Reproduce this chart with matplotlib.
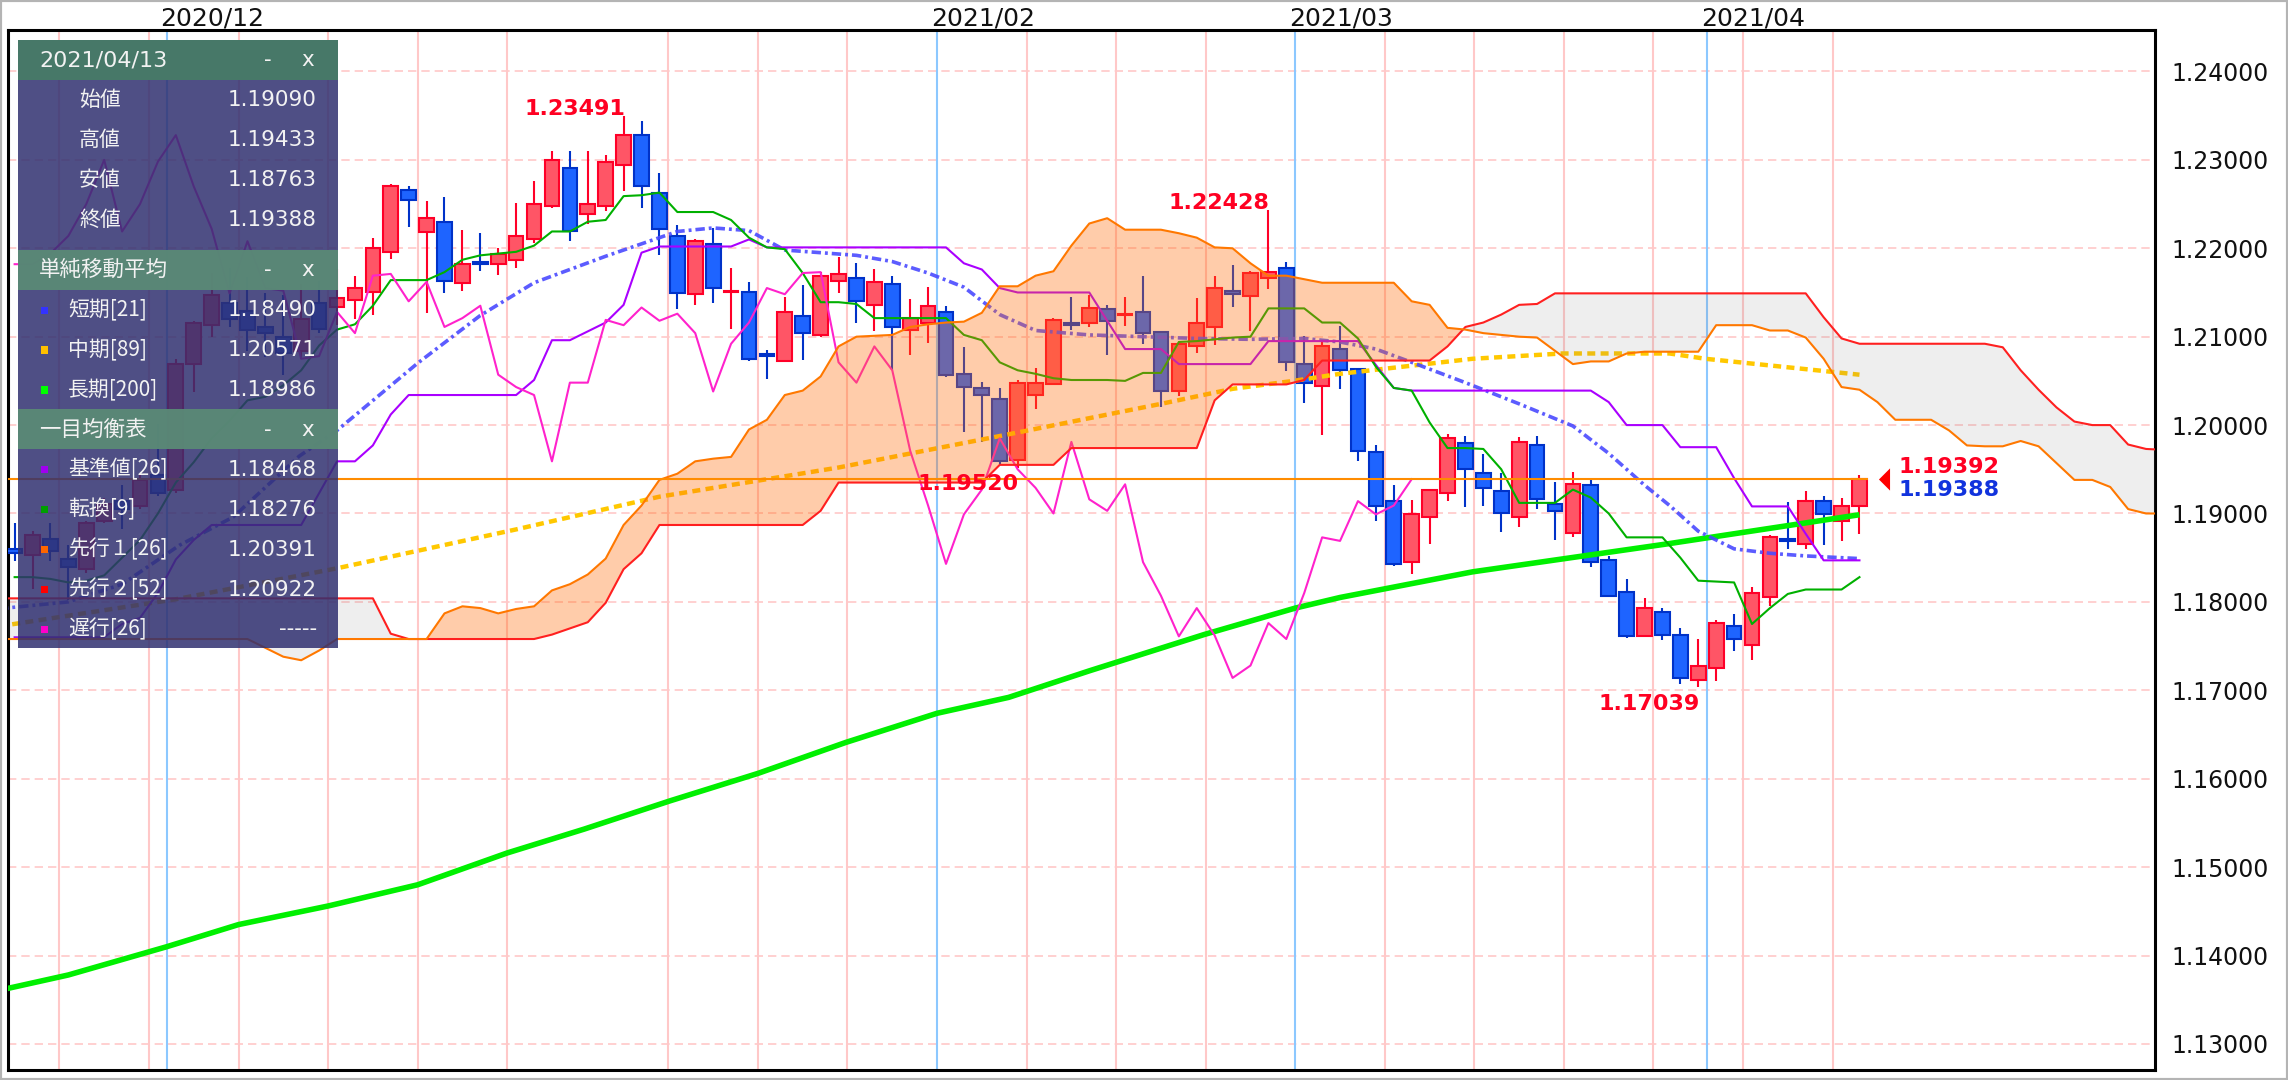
"""EUR/USD daily chart with Ichimoku cloud, SMAs and an info panel."""

import matplotlib

matplotlib.use("Agg")
import matplotlib.pyplot as plt
import numpy as np
from matplotlib.patches import Rectangle

# ---------------------------------------------------------------------------
# data (candle index 0 = 2020/11/18 ... index 103 = 2021/04/13)
# ---------------------------------------------------------------------------
candle_open = [
    1.1860, 1.1853, 1.1871, 1.1849, 1.1837, 1.1891, 1.1914, 1.1909, 1.1943, 1.1927,
    1.2069, 1.2113, 1.2138, 1.2129, 1.2111, 1.2100, 1.2084, 1.2138, 1.2134, 1.2141,
    1.2150, 1.2196, 1.2266, 1.2218, 1.2230, 1.2161, 1.2184, 1.2182, 1.2187, 1.2211,
    1.2248, 1.2291, 1.2239, 1.2248, 1.2294, 1.2328, 1.2262, 1.2214, 1.2148, 1.2205,
    1.2150, 1.2151, 1.2080, 1.2073, 1.2123, 1.2102, 1.2163, 1.2166, 1.2136, 1.2160,
    1.2107, 1.2115, 1.2128, 1.2058, 1.2042, 1.2030, 1.1961, 1.2034, 1.2046, 1.2116,
    1.2116, 1.2131, 1.2124, 1.2128, 1.2105, 1.2038, 1.2089, 1.2111, 1.2152, 1.2146,
    1.2166, 1.2178, 1.2069, 1.2044, 1.2086, 1.2064, 1.1969, 1.1914, 1.1845, 1.1896,
    1.1923, 1.1980, 1.1946, 1.1926, 1.1896, 1.1977, 1.1911, 1.1878, 1.1932, 1.1847,
    1.1811, 1.1761, 1.1789, 1.1762, 1.1712, 1.1725, 1.1773, 1.1751, 1.1805, 1.1871,
    1.1866, 1.1914, 1.1891, 1.19090,
]
candle_high = [
    1.1889, 1.1880, 1.1889, 1.1864, 1.1891, 1.1918, 1.1932, 1.1945, 1.2001, 1.2075,
    1.2118, 1.2172, 1.2178, 1.2167, 1.2149, 1.2147, 1.2160, 1.2163, 1.2176, 1.2169,
    1.2212, 1.2273, 1.2271, 1.2253, 1.2258, 1.2221, 1.2217, 1.2200, 1.2251, 1.2276,
    1.2310, 1.2310, 1.2310, 1.2305, 1.23491, 1.2344, 1.2285, 1.2226, 1.2210, 1.2223,
    1.2178, 1.2162, 1.2085, 1.2145, 1.2158, 1.2173, 1.2190, 1.2183, 1.2176, 1.2169,
    1.2143, 1.2156, 1.2135, 1.2088, 1.2049, 1.2042, 1.2051, 1.2065, 1.2121, 1.2145,
    1.2147, 1.2136, 1.2145, 1.2169, 1.2105, 1.2092, 1.2144, 1.2169, 1.2181, 1.2174,
    1.22428, 1.2185, 1.2101, 1.2096, 1.2112, 1.2064, 1.1977, 1.1932, 1.1915, 1.1927,
    1.1990, 1.1988, 1.1967, 1.1946, 1.1986, 1.1988, 1.1936, 1.1947, 1.1939, 1.1852,
    1.1826, 1.1804, 1.1793, 1.1771, 1.1758, 1.1779, 1.1786, 1.1817, 1.1876, 1.1913,
    1.1926, 1.1920, 1.1917, 1.19433,
]
candle_low = [
    1.1846, 1.1815, 1.1846, 1.1802, 1.1833, 1.1889, 1.1882, 1.1905, 1.1920, 1.1923,
    1.2037, 1.2100, 1.2111, 1.2084, 1.2077, 1.2057, 1.2075, 1.2104, 1.2113, 1.2120,
    1.2125, 1.2188, 1.2224, 1.2127, 1.2149, 1.2152, 1.2174, 1.2170, 1.2178, 1.2206,
    1.2246, 1.2208, 1.2227, 1.2242, 1.2265, 1.2245, 1.2192, 1.2131, 1.2136, 1.2138,
    1.2109, 1.2072, 1.2052, 1.2072, 1.2074, 1.2100, 1.2149, 1.2116, 1.2106, 1.2062,
    1.2079, 1.2093, 1.2054, 1.1992, 1.1981, 1.1956, 1.19520, 1.2018, 1.2045, 1.2107,
    1.2111, 1.2079, 1.2112, 1.2092, 1.2021, 1.2033, 1.2081, 1.2091, 1.2134, 1.2106,
    1.2154, 1.2061, 1.2025, 1.1989, 1.2041, 1.1959, 1.1891, 1.1841, 1.1832, 1.1865,
    1.1914, 1.1907, 1.1909, 1.1879, 1.1885, 1.1905, 1.1870, 1.1873, 1.1839, 1.1807,
    1.1759, 1.1761, 1.1757, 1.1707, 1.17039, 1.1710, 1.1745, 1.1734, 1.1795, 1.1860,
    1.1860, 1.1864, 1.1869, 1.18763,
]
candle_close = [
    1.1855, 1.1876, 1.1858, 1.1840, 1.1889, 1.1911, 1.1905, 1.1938, 1.1923, 1.2069,
    1.2116, 1.2147, 1.2120, 1.2107, 1.2104, 1.2082, 1.2120, 1.2109, 1.2144, 1.2155,
    1.2200, 1.2270, 1.2255, 1.2234, 1.2163, 1.2182, 1.2182, 1.2194, 1.2214, 1.2250,
    1.2300, 1.2219, 1.2250, 1.2298, 1.2328, 1.2270, 1.2222, 1.2149, 1.2208, 1.2155,
    1.2152, 1.2075, 1.2078, 1.2128, 1.2104, 1.2169, 1.2171, 1.2140, 1.2162, 1.2111,
    1.2121, 1.2135, 1.2057, 1.2043, 1.2034, 1.1959, 1.2048, 1.2048, 1.2119, 1.2113,
    1.2133, 1.2118, 1.2126, 1.2104, 1.2038, 1.2092, 1.2116, 1.2155, 1.2148, 1.2172,
    1.2173, 1.2071, 1.2048, 1.2089, 1.2062, 1.1971, 1.1909, 1.1843, 1.1899, 1.1927,
    1.1985, 1.1950, 1.1929, 1.1900, 1.1981, 1.1916, 1.1903, 1.1933, 1.1845, 1.1807,
    1.1761, 1.1793, 1.1762, 1.1714, 1.1728, 1.1776, 1.1758, 1.1810, 1.1873, 1.1869,
    1.1914, 1.1899, 1.1909, 1.19388,
]

tenkan = [
    1.1828, 1.1828, 1.1826, 1.1822, 1.1824, 1.1830, 1.1850, 1.1870, 1.1900, 1.1935,
    1.1958, 1.1985, 1.2005, 1.2028, 1.2032, 1.2045, 1.2062, 1.2090, 1.2108, 1.2114,
    1.2135, 1.2164, 1.2164, 1.2164, 1.2173, 1.2187, 1.2192, 1.2194, 1.2196, 1.2203,
    1.2219, 1.2219, 1.2230, 1.2232, 1.2259, 1.2260, 1.2263, 1.2241, 1.2241, 1.2241,
    1.2232, 1.2212, 1.2201, 1.2199, 1.2172, 1.2139, 1.2139, 1.2137, 1.2121, 1.2121,
    1.2121, 1.2121, 1.2121, 1.2102, 1.2096, 1.2071, 1.2062, 1.2058, 1.2053, 1.2051,
    1.2051, 1.2051, 1.2050, 1.2059, 1.2059, 1.2094, 1.2095, 1.2097, 1.2099, 1.2100,
    1.2132, 1.2132, 1.2132, 1.2116, 1.2116, 1.2098, 1.2066, 1.2042, 1.2039, 1.2003,
    1.1974, 1.1974, 1.1973, 1.1950, 1.1912, 1.1912, 1.1912, 1.1927, 1.1918, 1.1900,
    1.1873, 1.1873, 1.1873, 1.1850, 1.1824, 1.1823, 1.1822, 1.1775, 1.1793, 1.1809,
    1.1814, 1.1814, 1.1814, 1.1828,
]
kijun = [
    1.1760, 1.1760, 1.1760, 1.1760, 1.1760, 1.1760, 1.1775, 1.1782, 1.1810, 1.1848,
    1.1870, 1.1887, 1.1887, 1.1887, 1.1887, 1.1887, 1.1887, 1.1923, 1.1959, 1.1959,
    1.1977, 1.2012, 1.2034, 1.2034, 1.2034, 1.2034, 1.2034, 1.2034, 1.2034, 1.2051,
    1.2096, 1.2096, 1.2106, 1.2116, 1.2136, 1.2195, 1.2202, 1.2202, 1.2202, 1.2202,
    1.2202, 1.2210, 1.2201, 1.2201, 1.2201, 1.2201, 1.2201, 1.2201, 1.2201, 1.2201,
    1.2201, 1.2201, 1.2201, 1.2183, 1.2176, 1.2155, 1.2150, 1.2150, 1.2150, 1.2150,
    1.2150, 1.2118, 1.2086, 1.2086, 1.2086, 1.2069, 1.2069, 1.2069, 1.2069, 1.2069,
    1.2095, 1.2095, 1.2095, 1.2095, 1.2095, 1.2095, 1.2068, 1.2042, 1.2039, 1.2039,
    1.2039, 1.2039, 1.2039, 1.2039, 1.2039, 1.2039, 1.2039, 1.2039, 1.2039, 1.2026,
    1.2000, 1.2000, 1.2000, 1.1975, 1.1975, 1.1975, 1.1940, 1.1908, 1.1908, 1.1908,
    1.1877, 1.1847, 1.1847, 1.1847,
]

# leading spans, index -1 ... 120 (drawn 26 days ahead)
senkou_a = (
    [1.1758] * 15 + [1.1748, 1.1738, 1.1734, 1.1745] + [1.1758] * 6
    + [1.1787, 1.1795, 1.1793, 1.1787, 1.1792, 1.1795, 1.1813, 1.1820, 1.1831,
       1.1849, 1.1887, 1.1909, 1.1938, 1.1945, 1.1959, 1.1962, 1.1964, 1.1995,
       1.2006, 1.2034, 1.2039, 1.2055, 1.2089, 1.2100, 1.2101, 1.2102, 1.2111,
       1.2114, 1.2116, 1.2117, 1.2127, 1.2157, 1.2157, 1.2169, 1.2174, 1.2203,
       1.2228, 1.2234, 1.2221, 1.2221, 1.2221, 1.2217, 1.2212, 1.2201, 1.2200,
       1.2183, 1.2169, 1.2169, 1.2165]
    + [1.2161] * 5
    + [1.2140, 1.2136, 1.2110, 1.2108, 1.2104, 1.2102, 1.2100, 1.2099, 1.2084,
       1.2069, 1.2072, 1.2072, 1.2081, 1.2083, 1.2083, 1.2083, 1.2083, 1.2113,
       1.2113, 1.2113, 1.2107, 1.2107, 1.2099, 1.2075, 1.2043, 1.2040, 1.2026,
       1.2006, 1.2006, 1.2006, 1.1994, 1.1977, 1.1976, 1.1976, 1.1982, 1.1976,
       1.1957, 1.1938, 1.1938, 1.1930, 1.1905, 1.1900, 1.1900]
)
senkou_b = (
    [1.1804] * 22 + [1.1764] + [1.1758] * 8
    + [1.1763, 1.1770, 1.1777, 1.1799, 1.1837, 1.1855]
    + [1.1887] * 9 + [1.1903] + [1.1935] * 9 + [1.1955] * 4 + [1.1974] * 8
    + [1.2028] + [1.2046] * 4 + [1.2051] + [1.2073] * 7
    + [1.2089, 1.2111, 1.2116, 1.2125, 1.2136, 1.2137]
    + [1.2149] * 15 + [1.2122, 1.2098] + [1.2092] * 8
    + [1.2088, 1.2062, 1.2040, 1.2020, 1.2004, 1.2000, 1.2000, 1.1978, 1.1973,
       1.1972]
)

# moving averages, read as (candle index, value) vertices
sma21_idx = [-1, 3, 6, 9.2, 12.2, 15.9, 18, 22.5, 26, 29, 33, 37, 39, 41, 43, 45,
             47, 49, 51, 53, 55, 57, 60, 63, 66, 69, 72, 74, 76, 78, 81, 84, 87,
             89, 91, 92.4, 94, 96, 98, 100, 103]
sma21_val = [1.1792, 1.1800, 1.1820, 1.1864, 1.1896, 1.1965, 1.1994, 1.2070,
             1.2124, 1.2161, 1.2191, 1.2219, 1.2223, 1.2220, 1.2198, 1.2195,
             1.2192, 1.2185, 1.2172, 1.2156, 1.2125, 1.2107, 1.2102, 1.2100,
             1.2098, 1.2097, 1.2098, 1.2094, 1.2086, 1.2071, 1.2048, 1.2024,
             1.1999, 1.1968, 1.1932, 1.1909, 1.1880, 1.1860, 1.1855, 1.1852,
             1.1849]
sma89_idx = [-1, 9, 18, 28, 36, 46, 55.6, 64, 68, 71.4, 74, 81.4, 86.4, 92.4,
             94.4, 98.7, 103]
sma89_val = [1.1772, 1.1803, 1.1838, 1.1882, 1.1919, 1.1952, 1.1990, 1.2024,
             1.2041, 1.2050, 1.2058, 1.2075, 1.2081, 1.2081, 1.2075, 1.2066,
             1.2057]
sma200_idx = [-1, 3, 8.5, 12.5, 17.5, 22.5, 27.5, 31.8, 36.6, 41.5, 46.4, 51.5,
              55.5, 60, 66.4, 71.5, 74, 81.4, 92.4, 103]
sma200_val = [1.1360, 1.1378, 1.1410, 1.1435, 1.1456, 1.1480, 1.1516, 1.1543,
              1.1575, 1.1606, 1.1641, 1.1674, 1.1692, 1.1722, 1.1763, 1.1793,
              1.1805, 1.1834, 1.1866, 1.18986]

CHIKOU_SHIFT = 25
current_price = 1.19392

# first candle of each month / week (vertical separators)
month_labels = ["2020/12", "2021/02", "2021/03", "2021/04"]
month_starts = [9, 52, 72, 95]
week_starts = [3, 8, 13, 18, 23, 28, 37, 42, 47, 57, 62, 67, 77, 82, 87, 92, 97, 102]

# marked extremes: (candle index, "high"/"low")
extreme_marks = [(34, "high"), (70, "high"), (56, "low"), (94, "low")]

y_ticks = [1.13, 1.14, 1.15, 1.16, 1.17, 1.18, 1.19, 1.20, 1.21, 1.22, 1.23, 1.24]

# info panel
panel_date = "2021/04/13"
ohlc_names = ["始値", "高値", "安値", "終値"]
ohlc_values = ["1.19090", "1.19433", "1.18763", "1.19388"]
sma_title = "単純移動平均"
sma_names = ["短期[21]", "中期[89]", "長期[200]"]
sma_values = ["1.18490", "1.20571", "1.18986"]
ichi_title = "一目均衡表"
ichi_names = ["基準値[26]", "転換[9]", "先行１[26]", "先行２[52]", "遅行[26]"]
ichi_values = ["1.18468", "1.18276", "1.20391", "1.20922", "-----"]

# ---------------------------------------------------------------------------
# styling
# ---------------------------------------------------------------------------
FIG_W, FIG_H = 2288, 1080
AX_LEFT, AX_TOP, AX_RIGHT, AX_BOTTOM = 8, 30, 2155, 1070
X_RANGE = (-0.37, 119.5)
Y_RANGE = (1.12705, 1.24469)

UP_FACE, UP_EDGE = "#FF5566", "#FF0028"
DOWN_FACE, DOWN_EDGE = "#1E64FF", "#0032C8"
C_SMA21, C_SMA89, C_SMA200 = "#4A4AFF", "#FFC800", "#00F000"
C_KIJUN, C_TENKAN, C_CHIKOU = "#AA00FF", "#00B000", "#FF22CC"
C_SPAN_A, C_SPAN_B = "#FF7800", "#FF2020"
C_LABEL_RED, C_LABEL_BLUE = "#FF0022", "#1133DD"
GRID_PINK, GRID_BLUE = "#FFC8C8", "#8CC8FF"
JP_FONT = ["Noto Sans CJK JP", "DejaVu Sans"]


def fx(px):
    return px / FIG_W


def fy(py):
    return 1 - py / FIG_H


def draw_chart(ax):
    ax.set_xlim(*X_RANGE)
    ax.set_ylim(*Y_RANGE)

    # grid
    for t in y_ticks:
        ax.axhline(t, color=GRID_PINK, lw=1.2, ls=(0, (5, 3)), zorder=0.5)
    for w in week_starts:
        ax.axvline(w - 0.5, color=GRID_PINK, lw=1.5, zorder=0.6)
    for m in month_starts:
        ax.axvline(m - 0.5, color=GRID_BLUE, lw=1.5, zorder=0.7)

    # candles
    o = np.asarray(candle_open)
    h = np.asarray(candle_high)
    lo = np.asarray(candle_low)
    c = np.asarray(candle_close)
    x = np.arange(len(o))
    up = c >= o
    for mask, face, edge in ((up, UP_FACE, UP_EDGE), (~up, DOWN_FACE, DOWN_EDGE)):
        ax.vlines(x[mask], lo[mask], h[mask], color=edge, lw=1.5, zorder=3)
        ax.bar(x[mask], np.maximum(np.abs(c - o)[mask], 0.00003),
               bottom=np.minimum(o, c)[mask], width=0.82, color=face,
               edgecolor=edge, linewidth=1.5, zorder=3.1)

    # indicator lines
    ax.plot(sma200_idx, sma200_val, color=C_SMA200, lw=4, zorder=4,
            solid_capstyle="butt", solid_joinstyle="round")
    ax.plot(sma89_idx, sma89_val, color=C_SMA89, lw=3.2, ls=(0, (1.8, 1.2)),
            zorder=4)
    ax.plot(sma21_idx, sma21_val, color=C_SMA21, lw=2.6,
            ls=(0, (2.6, 1.1, 0.8, 1.1)), alpha=0.9, zorder=4)
    ax.plot(x, kijun, color=C_KIJUN, lw=1.5, zorder=4.1)
    ax.plot(x, tenkan, color=C_TENKAN, lw=1.5, zorder=4.1)
    chikou = c[CHIKOU_SHIFT:]
    ax.plot(np.arange(len(chikou)), chikou, color=C_CHIKOU, lw=1.5, zorder=4.1)

    # cloud (drawn over candles, translucent)
    xs = np.arange(-1, -1 + len(senkou_a))
    a = np.asarray(senkou_a)
    b = np.asarray(senkou_b)
    ax.fill_between(xs, a, b, where=a >= b, interpolate=True,
                    facecolor="#FF6D0C", alpha=0.35, lw=0, zorder=5)
    ax.fill_between(xs, a, b, where=a < b, interpolate=True,
                    facecolor="#808080", alpha=0.13, lw=0, zorder=5)
    ax.plot(xs, b, color=C_SPAN_B, lw=1.5, zorder=5.5)
    ax.plot(xs, a, color=C_SPAN_A, lw=1.5, zorder=5.6)

    # current price line, marker and labels
    last = len(c) - 1
    ax.hlines(current_price, X_RANGE[0], last + 0.5, color="#FF8C00", lw=1.5,
              zorder=6)
    ax.plot([last], [current_price], marker=[(-0.5, 0), (0.5, 1), (0.5, -1)],
            ms=16, color="#FF0000", mec="none", zorder=7,
            transform=ax.transData + matplotlib.transforms.ScaledTranslation(
                24.5 / 100, 0, ax.figure.dpi_scale_trans))
    bold = dict(fontsize=16, fontweight="bold", family="DejaVu Sans", zorder=7)
    ax.annotate(f"{current_price:.5f}", (last, current_price), xytext=(28, 8.4),
                textcoords="offset points", ha="left", va="center",
                color=C_LABEL_RED, **bold)
    ax.annotate(f"{c[-1]:.5f}", (last, current_price), xytext=(28, -8.2),
                textcoords="offset points", ha="left", va="center",
                color=C_LABEL_BLUE, **bold)

    for idx, kind in extreme_marks:
        if kind == "high":
            ax.annotate(f"{h[idx]:.5f}", (idx, h[idx]), xytext=(1, 1),
                        textcoords="offset points", ha="right", va="baseline",
                        color=C_LABEL_RED, **bold)
        else:
            ax.annotate(f"{lo[idx]:.5f}", (idx, lo[idx]), xytext=(1, -5),
                        textcoords="offset points", ha="right", va="top",
                        color=C_LABEL_RED, **bold)

    # month labels above the frame
    for label, m in zip(month_labels, month_starts):
        ax.annotate(label, (m - 0.5, 1), xycoords=("data", "axes fraction"),
                    xytext=(-4.5, 8), textcoords="offset points", ha="left",
                    va="center", fontsize=18, color="#111111")

    # right price axis
    ax.set_xticks([])
    ax.yaxis.tick_right()
    ax.set_yticks(y_ticks)
    ax.set_yticklabels([f"{t:.5f}" for t in y_ticks])
    ax.tick_params(axis="y", length=0, pad=12, labelsize=17, labelcolor="#111111")
    for s in ax.spines.values():
        s.set_linewidth(2.2)
        s.set_color("black")


def draw_panel(fig):
    left, right, top, bottom = 18, 338, 40, 648

    def rect(x0, y0, x1, y1, color, alpha, z):
        fig.add_artist(Rectangle((fx(x0), fy(y1)), fx(x1 - x0), (y1 - y0) / FIG_H,
                                 transform=fig.transFigure, facecolor=color,
                                 edgecolor="none", alpha=alpha, zorder=z))

    def text(px, py, s, ha="left", family="DejaVu Sans", size=15.5):
        fig.text(fx(px), fy(py), s, ha=ha, va="center", color="#F2F2F2",
                 fontsize=size, family=family, zorder=12)

    rect(left, top, right, bottom, "#303070", 0.85, 10)

    def header(y0, y1, title, color, alpha, family):
        rect(left, y0, right, y1, color, alpha, 11)
        yc = (y0 + y1) / 2
        text(39, yc, title, family=family, size=16 if family != JP_FONT else 15.5)
        text(268, yc, "-", ha="center")
        text(308, yc, "x", ha="center")

    header(top, 80, panel_date, "#477868", 1.0, "DejaVu Sans")
    for k, (name, val) in enumerate(zip(ohlc_names, ohlc_values)):
        yc = 100 + 40 * k
        text(100, yc, name, ha="center", family=JP_FONT, size=15)
        text(317, yc, val, ha="right")

    def indicator_block(y0, title, names, values, colors):
        header(y0, y0 + 40, title, "#5A8A76", 0.95, JP_FONT)
        for k, (name, val, col) in enumerate(zip(names, values, colors)):
            yc = y0 + 60 + 40 * k
            rect(40.5, yc - 3.5, 47.5, yc + 3.5, col, 1.0, 12)
            text(68, yc, name, family=JP_FONT, size=15)
            text(317, yc, val, ha="right")

    indicator_block(250, sma_title, sma_names, sma_values,
                    ["#3333FF", "#FFC000", "#00FF00"])
    indicator_block(409.5, ichi_title, ichi_names, ichi_values,
                    ["#A000F0", "#00A000", "#FF6600", "#FF0000", "#FF00CC"])


def main():
    fig = plt.figure(figsize=(FIG_W / 100, FIG_H / 100), dpi=100)
    fig.patch.set_facecolor("white")
    ax = fig.add_axes([fx(AX_LEFT), fy(AX_BOTTOM), fx(AX_RIGHT - AX_LEFT),
                       (AX_BOTTOM - AX_TOP) / FIG_H])
    draw_chart(ax)
    draw_panel(fig)
    fig.add_artist(Rectangle((0, 0), 1, 1, transform=fig.transFigure, fill=False,
                             edgecolor="#B4B4B4", linewidth=3, zorder=20))
    fig.savefig("out.png", dpi=100)
    plt.close(fig)


if __name__ == "__main__":
    main()
